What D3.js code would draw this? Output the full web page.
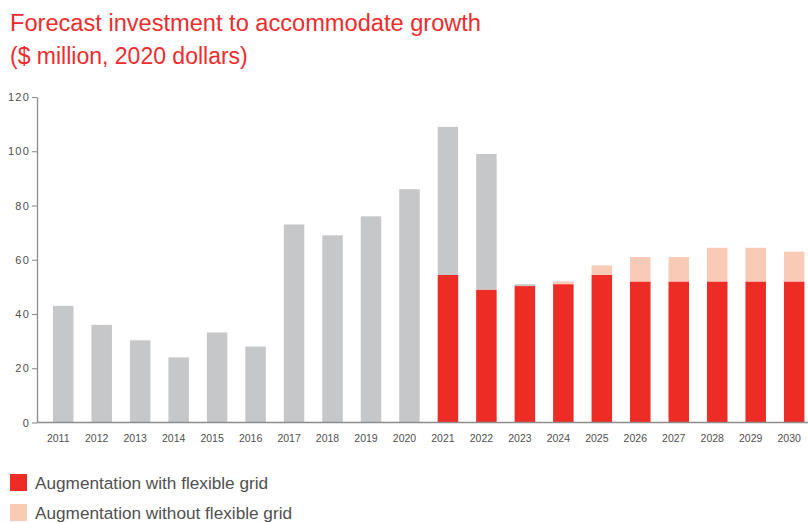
<!DOCTYPE html>
<html>
<head>
<meta charset="utf-8">
<script src="https://cdn.jsdelivr.net/npm/d3@7"></script>
<style>
  html, body { margin: 0; padding: 0; background: #fff; }
  svg { display: block; font-family: "Liberation Sans", Arial, Helvetica, sans-serif; }
</style>
</head>
<body>
<svg id="chart" width="808" height="523"></svg>
<script>
// Investment by year, $ million (2020 dollars)
const years = ["2011","2012","2013","2014","2015","2016","2017","2018","2019","2020",
               "2021","2022","2023","2024","2025","2026","2027","2028","2029","2030"];
// Augmentation with flexible grid (red)
const withFlexible = [0,0,0,0,0,0,0,0,0,0, 54.4,49,50.3,51,54.4,52,52,52,52,52];
// Additional augmentation without flexible grid (light)
const withoutFlexibleExtra = [0,0,0,0,0,0,0,0,0,0, 0,0,0,1,3.5,9,9,12.4,12.4,11];
// Actual / committed investment (grey)
const actual = [43,36,30.3,24,33.2,28,73,69,76,86, 54.6,50,0.7,0,0,0,0,0,0,0];
const yTicks = [0,20,40,60,80,100,120];

const legendLabels = ["Augmentation with flexible grid", "Augmentation without flexible grid"];
const titleLines = ["Forecast investment to accommodate growth", "($ million, 2020 dollars)"];

const colors = { red: "#ee2c26", light: "#f9cab6", grey: "#c6c7c9", axis: "#8c8c8c", text: "#505050" };

const W = 808, H = 523;
const axisX = 37, y0 = 422.5, yTop = 97;

const svg = d3.select("#chart");

const rows = years.map((yr, i) => ({
  year: yr, red: withFlexible[i], light: withoutFlexibleExtra[i], grey: actual[i]
}));
const keys = ["red", "light", "grey"];
const stack = d3.stack().keys(keys)(rows);

const x = d3.scaleBand().domain(years).range([44, 813.4]).paddingInner(0.467).paddingOuter(0.2335);
const y = d3.scaleLinear().domain([0, 120]).range([y0, yTop]);

// Bars
svg.append("g").selectAll("g").data(stack).join("g")
  .attr("fill", d => colors[d.key])
  .selectAll("rect").data(d => d.filter(p => p[1] - p[0] > 0)).join("rect")
  .attr("x", d => x(d.data.year))
  .attr("width", x.bandwidth())
  .attr("y", d => y(d[1]))
  .attr("height", d => y(d[0]) - y(d[1]));

// Y axis
const yAxis = svg.append("g").attr("transform", `translate(${axisX},0)`)
  .call(d3.axisLeft(y).tickValues(yTicks).tickSize(5).tickPadding(2).tickSizeOuter(0));
yAxis.select(".domain").attr("stroke", colors.axis).attr("stroke-width", 1.3);
yAxis.selectAll(".tick line").attr("stroke", colors.axis).attr("stroke-width", 1.1);
yAxis.selectAll(".tick text").attr("fill", colors.text).attr("font-size", 11)
  .attr("font-family", "Liberation Sans, Arial, sans-serif").attr("letter-spacing", 1.2);

// X baseline
svg.append("line").attr("x1", axisX).attr("x2", W).attr("y1", y0).attr("y2", y0)
  .attr("stroke", colors.axis).attr("stroke-width", 1.5);

// X labels
const xAxis = svg.append("g").attr("transform", `translate(0,${y0})`)
  .call(d3.axisBottom(x).tickSize(0).tickPadding(12));
xAxis.select(".domain").remove();
xAxis.selectAll(".tick text").attr("fill", colors.text).attr("font-size", 10.5)
  .attr("font-family", "Liberation Sans, Arial, sans-serif").attr("dx", -5);

// Title
svg.append("g").selectAll("text").data(titleLines).join("text")
  .attr("x", 10).attr("y", (d, i) => 31 + i * 32.5)
  .attr("fill", "#ef2b2d").attr("font-size", 23)
  .attr("textLength", (d, i) => i === 0 ? 471 : null)
  .attr("lengthAdjust", "spacingAndGlyphs")
  .text(d => d);

// Legend
const legend = svg.append("g").selectAll("g").data(legendLabels).join("g")
  .attr("transform", (d, i) => `translate(10,${474 + i * 30})`);
legend.append("rect").attr("width", 17).attr("height", 17)
  .attr("fill", (d, i) => i === 0 ? colors.red : colors.light);
legend.append("text").attr("x", 25).attr("y", 14.5)
  .attr("fill", colors.text).attr("font-size", 17.2)
  .text(d => d);
</script>
</body>
</html>
